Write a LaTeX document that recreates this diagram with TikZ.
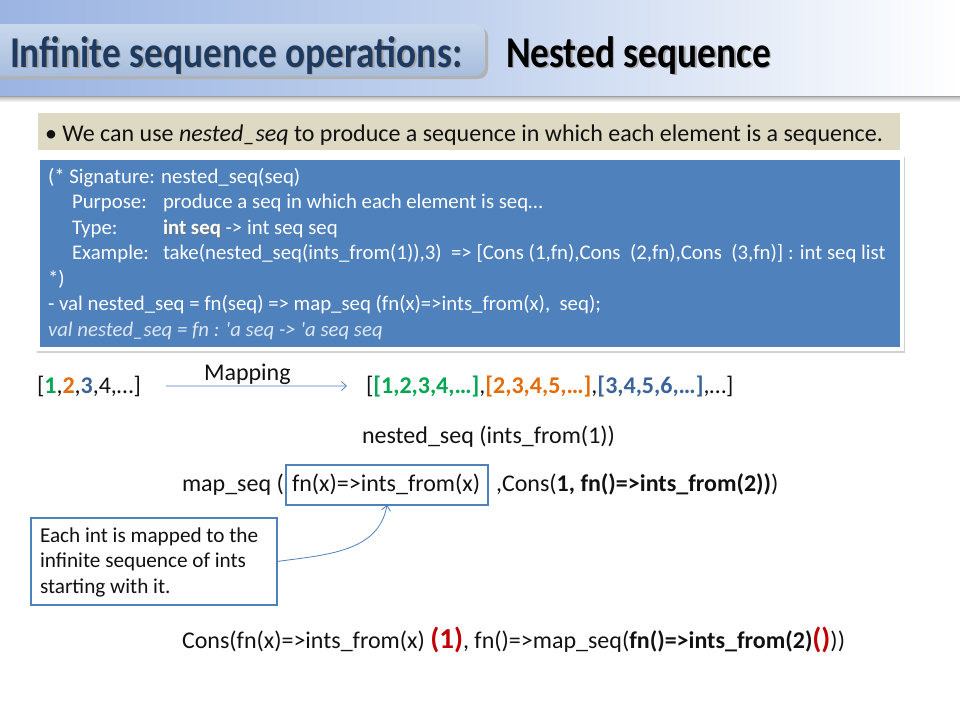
\documentclass[tikz,border=0pt]{standalone}
\usepackage{fontspec}
\setmainfont{Carlito}
\newfontfamily\titlefam[FakeStretch=0.85]{Carlito}
\usetikzlibrary{arrows.meta}
\definecolor{bandL}{HTML}{9BB4E2}
\definecolor{bandM}{HTML}{C3D3EE}
\definecolor{tabT}{HTML}{C9D8EC}
\definecolor{tabB}{HTML}{A7BEDD}
\definecolor{navy}{HTML}{1F3A60}
\definecolor{beige}{HTML}{DDD9C3}
\definecolor{boxblue}{HTML}{4F81BD}
\definecolor{paleblue}{HTML}{DCE6F2}
\definecolor{grn}{HTML}{00A651}
\definecolor{org}{HTML}{E46C0A}
\definecolor{blu}{HTML}{3A6399}
\definecolor{dred}{HTML}{C00000}
\definecolor{ink}{HTML}{111111}
\newcommand{\ttlfont}{\titlefam\fontsize{44}{50}\selectfont\bfseries}
\newcommand{\midfont}{\fontsize{24}{28}\selectfont}
\newcommand{\codfont}{\fontsize{20.8}{25}\selectfont}
\newcommand{\ntefont}{\fontsize{21.2}{25}\selectfont}
\begin{document}
\begin{tikzpicture}[x=1pt,y=-1pt,
  every node/.style={inner sep=0pt,outer sep=0pt,anchor=base west},
  codeline/.style={text=white,font=\codfont},
  midtext/.style={text=ink,font=\midfont},
  notetext/.style={text=ink,font=\ntefont},
  bluebox/.style={draw=boxblue,line width=2.5pt},
  thinarrow/.style={draw=boxblue,line width=0.8pt,-{Straight Barb[length=5pt,width=9pt]}}]
\useasboundingbox (0,0) rectangle (960,720);
\fill[white] (0,0) rectangle (960,720);
% header band
\shade[left color=bandL,right color=white,middle color=bandM] (0,0) rectangle (960,96);
\fill[gray!75] (0,95.5) rectangle (960,97.5);
\shade[top color=gray!45,bottom color=white] (0,97.5) rectangle (960,102);
% title tab
\fill[gray!60,rounded corners=10pt] (-10,27) rectangle (488,79);
\shade[top color=tabT,bottom color=tabB,rounded corners=10pt] (-10,24) rectangle (485,76);
\node[text=gray!70,font=\ttlfont] (t1s) at (11.5,68.5) {Infinite sequence operations:};
\node[text=navy,font=\ttlfont] (t1) at (10,67) {Infinite sequence operations:};
\node[text=gray!70,font=\ttlfont] (t2s) at (507.5,68.5) {Nested sequence};
\node[text=black,font=\ttlfont] (t2) at (506,67) {Nested sequence};
% bullet
\fill[beige] (38,113) rectangle (900,150);
\node[text=ink,font=\fontsize{24}{28}\selectfont] (bul) at (45,141) {• We can use \textit{nested\_seq} to produce a sequence in which each element is a sequence.};
% blue code box
\fill[gray!35] (37,157) rectangle (905,353);
\fill[white] (35,155) rectangle (904,351);
\fill[boxblue] (40,160) rectangle (900,347);
\node[codeline] (c1) at (48,183) {(* Signature: nested\_seq(seq)};
\node[codeline] (c2a) at (72,208.5) {Purpose:};
\node[codeline] (c2b) at (163,208.5) {produce a seq in which each element is seq…};
\node[codeline] (c3a) at (72,234) {Type:};
\node[codeline,text=black!55] (c3s) at (164,235) {\bfseries int seq};
\node[codeline] (c3b) at (163,234) {\textbf{int seq} -> int seq seq};
\node[codeline] (c4a) at (72,259.5) {Example:};
\node[codeline] (c4b) at (163,259.5) {take(nested\_seq(ints\_from(1)),3)\ \ => [Cons (1,fn),Cons\ \ (2,fn),Cons\ \ (3,fn)] : int seq list};
\node[codeline] (c5) at (48,285) {*)};
\node[codeline] (c6) at (48,310.5) {- val nested\_seq = fn(seq) => map\_seq (fn(x)=>ints\_from(x),\ \ seq);};
\node[codeline,text=paleblue] (c7) at (48,336) {\itshape val nested\_seq = fn : \textquotesingle a seq -> \textquotesingle a seq seq};
% mapping
\node[midtext] (src) at (37,393) {[\textbf{\textcolor{grn}{1}},\textbf{\textcolor{org}{2}},\textbf{\textcolor{blu}{3}},4,…]};
\node[midtext] (dst) at (366,393) {[\textbf{\textcolor{grn}{[1,2,3,4,…]}},\textbf{\textcolor{org}{[2,3,4,5,…]}},\textbf{\textcolor{blu}{[3,4,5,6,…]}},…]};
\node[midtext] (maplbl) at (204,380) {Mapping};
\draw[thinarrow,shorten <=25pt,shorten >=19pt] (src.east) -- (dst.west);
\node[midtext] (nsq) at (362,443) {nested\_seq (ints\_from(1))};
% map_seq line
\node[midtext] (ms1) at (182,491) {map\_seq (};
\node[bluebox,minimum width=202pt,minimum height=40pt,anchor=north west] (fnbox) at (286,465) {};
\node[midtext] (fnx) at (292,491) {fn(x)=>ints\_from(x)};
\node[midtext] (ms2) at (496,491) {,Cons(\textbf{1, fn()=>ints\_from(2))})};
% callout
\node[bluebox,fill=white,minimum width=246pt,minimum height=87pt,anchor=north west] (note) at (31,518) {};
\node[notetext] (n1) at (40,542) {Each int is mapped to the};
\node[notetext] (n2) at (40,567.5) {infinite sequence of ints};
\node[notetext] (n3) at (40,593) {starting with it.};
\draw[thinarrow] (note.east) to[out=8,in=-100] (fnbox.south);
% bottom line
\node[midtext] (bot) at (182,648) {Cons(fn(x)=>ints\_from(x) {\fontsize{29}{34}\selectfont\bfseries\textcolor{dred}{(1)}}, fn()=>map\_seq(\textbf{fn()=>ints\_from(2)}{\fontsize{29}{34}\selectfont\bfseries\textcolor{dred}{()}}))};
\end{tikzpicture}
\end{document}
